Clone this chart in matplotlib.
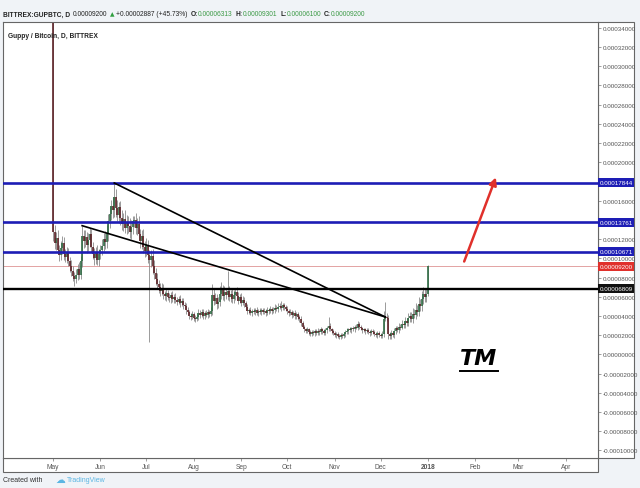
import numpy as np
import pandas as pd
import matplotlib
matplotlib.use("Agg")
import matplotlib.pyplot as plt
import matplotlib.dates as mdates
from matplotlib import font_manager
from matplotlib.patches import Rectangle
from matplotlib.lines import Line2D
from matplotlib.transforms import blended_transform_factory
from datetime import datetime

# daily closes in satoshi, from 2017-05-01 to 2018-01-01
closes = [
    12700, 11600, 12100, 10900, 10300, 11100, 11600, 10500, 10100, 10600,
    9700, 9200, 8700, 8200, 7800, 8300, 8900, 8300, 9700, 12300,
    11800, 12200, 11400, 11900, 12500, 11200, 10500, 10000, 10700, 9800,
    10400, 10900, 11300, 12000, 11700, 12600, 13900, 14600, 15500, 15000,
    16400, 15200, 14500, 15300, 14200, 13600, 14100, 13200, 13800, 13400,
    12700, 13300, 13900, 14000, 13200, 13600, 12500, 11800, 12300, 11200,
    10800, 11400, 10300, 9800, 10200, 9200, 8500, 7900, 7300, 7000,
    6600, 6900, 6300, 6100, 6400, 6000, 5900, 6200, 5800, 6000,
    5700, 5500, 5800, 5300, 5600, 5100, 5000, 4600, 4400, 4000,
    3900, 4200, 3800, 3700, 3900, 4300, 4100, 4400, 4000, 4300,
    4100, 4400, 4200, 4500, 6200, 5600, 5900, 5200, 5500, 6300,
    6700, 6100, 6500, 6200, 6600, 6000, 6300, 5800, 6200, 6500,
    6100, 5600, 6000, 5400, 5700, 5300, 4900, 4500, 4600, 4300,
    4500, 4400, 4600, 4300, 4500, 4400, 4600, 4400, 4500, 4300,
    4600, 4500, 4700, 4500, 4600, 4800, 4700, 4900, 5000, 4800,
    5100, 4900, 4700, 4500, 4300, 4400, 4100, 4300, 4000, 4200,
    3900, 3700, 3300, 2900, 2600, 2400, 2600, 2300, 2100, 2300,
    2200, 2400, 2200, 2400, 2300, 2600, 2400, 2200, 2500, 2700,
    3000, 2600, 2400, 2200, 2000, 2100, 1900, 1800, 2000, 1900,
    2100, 2300, 2400, 2600, 2500, 2700, 2600, 2900, 2800, 3200,
    2900, 2700, 2500, 2600, 2400, 2500, 2300, 2200, 2400, 2300,
    2100, 2000, 2200, 2000, 1900, 2100, 3700, 3900, 3800, 2100,
    1900, 2200, 2000, 2400, 2700, 2500, 2900, 2800, 3200, 3100,
    3500, 3300, 3800, 4000, 3700, 4200, 4100, 4600, 4400, 5200,
    5000, 5800, 6300, 6000, 6313, 9200,
]
first_open = 40000

# wick sizes above / below the body, in hundreds of satoshi
wick_up = [
    50, 8, 6, 9, 5, 7, 7, 6, 5, 6,
    5, 4, 6, 5, 4, 6, 5, 7, 5, 11,
    6, 8, 5, 7, 7, 6, 5, 6, 5, 7,
    6, 5, 7, 6, 8, 9, 7, 8, 6, 9,
    14, 8, 9, 6, 7, 8, 6, 9, 7, 6,
    8, 7, 5, 4, 7, 6, 8, 6, 7, 8,
    6, 7, 5, 6, 7, 8, 6, 5, 6, 4,
    4, 5, 4, 3, 4, 3, 4, 3, 4, 3,
    4, 3, 3, 4, 3, 3, 4, 3, 3, 2,
    3, 3, 2, 3, 3, 4, 3, 3, 3, 2,
    3, 3, 2, 4, 11, 6, 5, 4, 5, 8,
    8, 5, 6, 4, 21, 5, 4, 6, 5, 4,
    5, 4, 3, 4, 4, 3, 3, 3, 2, 3,
    2, 3, 2, 3, 2, 3, 2, 2, 3, 2,
    3, 2, 3, 2, 3, 4, 3, 4, 3, 6,
    3, 3, 2, 3, 2, 3, 2, 2, 3, 2,
    2, 2, 3, 2, 2, 2, 3, 2, 2, 2,
    2, 2, 2, 3, 2, 3, 2, 2, 3, 3,
    9, 3, 2, 2, 2, 2, 2, 2, 2, 2,
    2, 2, 3, 2, 3, 2, 3, 2, 3, 3,
    2, 2, 2, 2, 2, 2, 2, 2, 2, 2,
    2, 2, 2, 2, 2, 3, 8, 16, 4, 3,
    2, 3, 2, 4, 3, 3, 4, 3, 4, 3,
    4, 3, 5, 4, 4, 6, 5, 7, 5, 8,
    6, 8, 7, 6, 5, 1,
]
wick_dn = [
    9, 6, 7, 5, 6, 5, 6, 7, 5, 6,
    5, 6, 5, 6, 7, 4, 6, 5, 4, 6,
    7, 6, 8, 6, 7, 5, 6, 7, 6, 5,
    6, 5, 6, 5, 7, 6, 8, 7, 6, 8,
    7, 9, 6, 8, 7, 6, 8, 6, 7, 8,
    6, 7, 8, 6, 7, 8, 6, 7, 8, 6,
    7, 6, 8, 85, 7, 8, 6, 7, 5, 6,
    5, 4, 5, 4, 5, 3, 4, 5, 3, 4,
    3, 4, 3, 4, 3, 4, 3, 4, 3, 3,
    3, 2, 3, 3, 2, 3, 3, 2, 3, 3,
    2, 3, 3, 2, 4, 5, 4, 5, 4, 5,
    5, 4, 5, 4, 5, 4, 5, 4, 4, 5,
    4, 4, 3, 4, 3, 4, 3, 3, 3, 2,
    3, 2, 3, 2, 3, 2, 3, 2, 2, 3,
    2, 3, 2, 3, 2, 3, 2, 3, 2, 3,
    2, 3, 2, 3, 3, 2, 3, 2, 3, 3,
    3, 3, 3, 2, 3, 2, 2, 3, 2, 2,
    2, 3, 2, 2, 3, 2, 3, 2, 2, 3,
    3, 2, 3, 2, 2, 3, 2, 2, 2, 2,
    2, 3, 2, 3, 2, 3, 2, 3, 2, 3,
    3, 2, 3, 2, 3, 2, 2, 3, 2, 2,
    2, 2, 3, 2, 2, 2, 3, 2, 3, 5,
    3, 3, 2, 3, 3, 2, 3, 3, 2, 3,
    3, 3, 3, 4, 3, 4, 3, 4, 4, 4,
    5, 5, 6, 5, 5, 2,
]

# drawings
blue_levels = [17844, 13761, 10671]
black_level = 6809
last_price = 9200
trendlines = [
    (("2017-06-10", 17844), ("2017-12-04", 3900)),
    (("2017-05-20", 13400), ("2017-12-04", 3900)),
]
arrow_start = ("2018-01-24", 9400)
arrow_end = ("2018-02-15", 18700)

month_ticks = pd.date_range("2017-05-01", "2018-04-01", freq="MS")
month_labels = ["May", "Jun", "Jul", "Aug", "Sep", "Oct", "Nov", "Dec", "2018", "Feb", "Mar", "Apr"]
# 0.00018 and 0.00014 are hidden behind the price tags
ytick_sat = [v for v in range(-10000, 34001, 2000) if v not in (18000, 14000)]

SAT = 1e-8
BG = "#f0f3f7"
BLUE = "#1d1db5"
RED = "#e0302b"

names = {f.name for f in font_manager.fontManager.ttflist}
small_font = "Liberation Sans Narrow" if "Liberation Sans Narrow" in names else "Liberation Sans"
plt.rcParams["font.family"] = ["Liberation Sans", "DejaVu Sans"]

W, H = 640, 489
fig = plt.figure(figsize=(6.4, 4.89), dpi=100, facecolor=BG)


def fx(px):
    return px / W


def fy(py):
    return 1 - py / H


plot_l, plot_r, plot_t, plot_b = 3, 598, 22.5, 459
ax = fig.add_axes([fx(plot_l), fy(plot_b), fx(plot_r - plot_l), (plot_b - plot_t) / H])
ax.set_facecolor("white")

# white strips for the price and time scales
fig.add_artist(Rectangle((fx(plot_r), fy(plot_b)), fx(634 - plot_r), (plot_b - plot_t) / H,
                         transform=fig.transFigure, facecolor="white", edgecolor="#666", lw=0.8, zorder=0))
fig.add_artist(Rectangle((fx(plot_l), fy(473)), fx(plot_r - plot_l), (473 - plot_b) / H,
                         transform=fig.transFigure, facecolor="white", edgecolor="#666", lw=0.8, zorder=0))

# candles
dates = pd.date_range("2017-05-01", periods=len(closes), freq="D")
xd = mdates.date2num(dates)
c = np.array(closes, dtype=float)
o = np.concatenate([[first_open], c[:-1]])
top = np.maximum(o, c)
bot = np.minimum(o, c)
hi = top + np.array(wick_up) * 100
lo = bot - np.array(wick_dn) * 100
up = c >= o
ax.vlines(xd, lo * SAT, hi * SAT, color="#8a8a8a", lw=0.6, zorder=2)
ax.vlines(xd[up], bot[up] * SAT, top[up] * SAT, color="#2f6b43", lw=1.2, zorder=2.1)
ax.vlines(xd[~up], bot[~up] * SAT, top[~up] * SAT, color="#5e2328", lw=1.2, zorder=2.1)

# horizontal levels
for lvl in blue_levels:
    ax.axhline(lvl * SAT, color=BLUE, lw=1.9, zorder=3)
ax.axhline(black_level * SAT, color="black", lw=1.7, zorder=3)
ax.axhline(last_price * SAT, color="#e3a3a3", lw=0.7, zorder=1.5)

# trendlines
for (d1, p1), (d2, p2) in trendlines:
    ax.plot([pd.Timestamp(d1), pd.Timestamp(d2)], [p1 * SAT, p2 * SAT], color="black", lw=1.2, zorder=3)

ax.annotate("", xy=(pd.Timestamp(arrow_end[0]), arrow_end[1] * SAT),
            xytext=(pd.Timestamp(arrow_start[0]), arrow_start[1] * SAT),
            arrowprops=dict(arrowstyle="-|>", color=RED, lw=1.8, mutation_scale=11), zorder=4)

ax.set_xlim(datetime(2017, 3, 29, 7), datetime(2018, 4, 22, 2))
ax.set_ylim(-10785 * SAT, 34655 * SAT)

ax.yaxis.tick_right()
ax.set_yticks([v * SAT for v in ytick_sat])
ax.set_yticklabels(["%.8f" % (v * SAT) for v in ytick_sat], fontsize=4.5, color="#555", family=small_font)
ax.set_xticks(month_ticks)
ax.set_xticklabels(month_labels, fontsize=4.8, color="#555", family=small_font)
for lab in ax.get_xticklabels():
    if lab.get_text() == "2018":
        lab.set_fontweight("bold")
ax.tick_params(axis="both", length=2, width=0.5, color="#777", pad=1.5)
for s in ax.spines.values():
    s.set_color("#666")
    s.set_linewidth(0.8)

# price tags on the scale
tr = blended_transform_factory(ax.transAxes, ax.transData)
tag_h = 9 * 104.1 * SAT
tag_w = (634 - plot_r) / (plot_r - plot_l)
tags = [(v, BLUE) for v in blue_levels] + [(last_price, RED), (black_level, "#111111")]
for v, col in tags:
    ax.add_patch(Rectangle((1.0, v * SAT - tag_h / 2), tag_w, tag_h, transform=tr, facecolor=col,
                           edgecolor="none", clip_on=False, zorder=10))
    ax.text(1.0 + tag_w / 2, v * SAT, "%.8f" % (v * SAT), transform=tr, ha="center", va="center",
            color="white", fontsize=4.5, family=small_font, clip_on=False, zorder=11)

ax.text(0.008, 0.975, "Guppy / Bitcoin, D, BITTREX", transform=ax.transAxes, fontsize=4.8,
        fontweight="bold", color="#222", family=small_font, va="top")

# header line
renderer = fig.canvas.get_renderer()
GREEN = "#3d9a47"
pieces = [
    ("BITTREX:GUPBTC, D", "bold", "#222", 3), ("0.00009200", "normal", "#222", 2),
    ("\u25b2", "normal", "#2f9e3f", 2), ("+0.00002887 (+45.73%)", "normal", "#222", 3),
    ("O:", "bold", "#222", 0), ("0.00006313", "normal", GREEN, 3),
    ("H:", "bold", "#222", 0), ("0.00009301", "normal", GREEN, 3),
    ("L:", "bold", "#222", 0), ("0.00006100", "normal", GREEN, 3),
    ("C:", "bold", "#222", 0), ("0.00009200", "normal", GREEN, 0),
]
x = 3
for s, wgt, col, gap in pieces:
    fam = ["DejaVu Sans"] if s == "\u25b2" else [small_font, "DejaVu Sans"]
    t = fig.text(fx(x), fy(15), s, fontsize=4.8 if s != "\u25b2" else 4.2, fontweight=wgt,
                 color=col, family=fam, va="center")
    x += t.get_window_extent(renderer).width + gap

# TM mark
fig.text(fx(479), fy(359), "TM", fontsize=16, fontweight="bold", fontstyle="italic",
         color="black", ha="center", va="center", family="DejaVu Sans")
fig.add_artist(Line2D([fx(460), fx(498)], [fy(372), fy(372)], color="black", lw=1.4))

# footer
fig.text(fx(3), fy(481), "Created with", fontsize=5.0, color="#333", family=small_font, va="center")
fig.text(fx(55), fy(480), "\u2601", fontsize=7, color="#5bb6e3", family="DejaVu Sans", va="center")
fig.text(fx(67), fy(481), "TradingView", fontsize=5.0, color="#5bb6e3", family=small_font, va="center")

fig.savefig("out.png", dpi=100, facecolor=BG)
